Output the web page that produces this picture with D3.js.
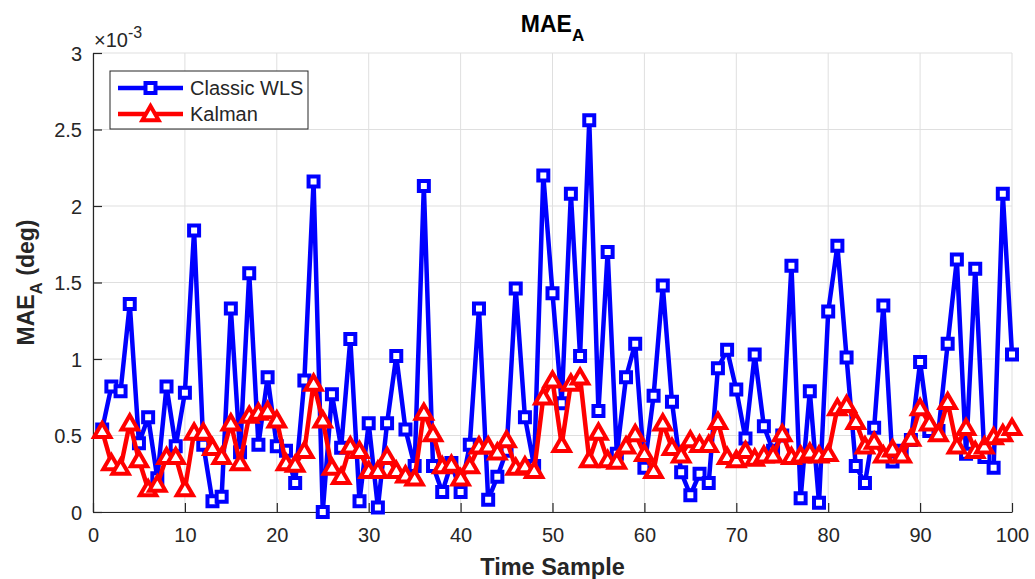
<!DOCTYPE html>
<html>
<head>
<meta charset="utf-8">
<script src="https://cdn.jsdelivr.net/npm/d3@7"></script>
<style>
  body { margin: 0; background: #fff; }
  text { font-family: "Liberation Sans", Arial, sans-serif; }
</style>
</head>
<body>
<div id="chart"></div>
<script>
// values are in units of 1e-3 deg
var samples = d3.range(1, 101);
var wls = [0.54, 0.82, 0.79, 1.36, 0.45, 0.62, 0.22, 0.82, 0.43, 0.78,
           1.84, 0.44, 0.07, 0.10, 1.33, 0.39, 1.56, 0.44, 0.88, 0.43,
           0.40, 0.19, 0.86, 2.16, 0.00, 0.77, 0.42, 1.13, 0.07, 0.58,
           0.03, 0.58, 1.02, 0.54, 0.30, 2.13, 0.30, 0.13, 0.32, 0.13,
           0.44, 1.33, 0.08, 0.23, 0.40, 1.46, 0.62, 0.30, 2.20, 1.43,
           0.71, 2.08, 1.02, 2.56, 0.66, 1.70, 0.38, 0.88, 1.10, 0.29,
           0.76, 1.48, 0.72, 0.26, 0.11, 0.25, 0.19, 0.94, 1.06, 0.80,
           0.48, 1.03, 0.56, 0.40, 0.50, 1.61, 0.09, 0.79, 0.06, 1.31,
           1.74, 1.01, 0.30, 0.19, 0.55, 1.35, 0.33, 0.40, 0.47, 0.98,
           0.53, 0.53, 1.10, 1.65, 0.38, 1.59, 0.36, 0.29, 2.08, 1.03];
var kalman = [0.53, 0.32, 0.29, 0.58, 0.34, 0.15, 0.18, 0.36, 0.36, 0.15,
              0.52, 0.52, 0.42, 0.36, 0.58, 0.32, 0.63, 0.65, 0.66, 0.60,
              0.32, 0.31, 0.40, 0.84, 0.60, 0.29, 0.23, 0.43, 0.40, 0.27,
              0.27, 0.36, 0.27, 0.24, 0.22, 0.65, 0.51, 0.30, 0.31, 0.22,
              0.30, 0.43, 0.43, 0.39, 0.47, 0.29, 0.30, 0.27, 0.75, 0.86,
              0.44, 0.84, 0.88, 0.34, 0.52, 0.34, 0.33, 0.43, 0.51, 0.38,
              0.27, 0.58, 0.42, 0.37, 0.47, 0.44, 0.44, 0.59, 0.36, 0.34,
              0.40, 0.35, 0.37, 0.37, 0.51, 0.36, 0.37, 0.39, 0.37, 0.38,
              0.68, 0.70, 0.59, 0.43, 0.46, 0.37, 0.41, 0.37, 0.48, 0.68,
              0.58, 0.51, 0.72, 0.43, 0.55, 0.40, 0.43, 0.49, 0.51, 0.55];
var xTicks = [0, 10, 20, 30, 40, 50, 60, 70, 80, 90, 100];
var yTicks = [0, 0.5, 1, 1.5, 2, 2.5, 3];
var seriesNames = ["Classic WLS", "Kalman"];

var svgWidth = 1035, svgHeight = 579;
var margin = {top: 53, right: 23, bottom: 67, left: 93};
var width = svgWidth - margin.left - margin.right;
var height = svgHeight - margin.top - margin.bottom;
var axisColor = "#262626";
var sqSize = 100, triSize = 115, markStroke = 4;

var x = d3.scaleLinear().domain([0, 100]).range([0, width]),
    y = d3.scaleLinear().domain([0, 3]).range([height, 0]);

var svg = d3.select("#chart").append("svg")
    .attr("width", svgWidth)
    .attr("height", svgHeight);

var g = svg.append("g")
    .attr("transform", "translate(" + margin.left + "," + margin.top + ")");

// grid
g.append("g").selectAll("line").data(xTicks).enter().append("line")
    .attr("x1", function(d) { return x(d); }).attr("x2", function(d) { return x(d); })
    .attr("y1", 0).attr("y2", height)
    .attr("stroke", "#dfdfdf").attr("stroke-width", 1);
g.append("g").selectAll("line").data(yTicks).enter().append("line")
    .attr("x1", 0).attr("x2", width)
    .attr("y1", function(d) { return y(d); }).attr("y2", function(d) { return y(d); })
    .attr("stroke", "#dfdfdf").attr("stroke-width", 1);

// axes
var xAxis = g.append("g")
    .attr("transform", "translate(0," + height + ")")
    .call(d3.axisBottom(x).tickValues(xTicks).tickSizeInner(-9).tickSizeOuter(0).tickPadding(16));
var yAxis = g.append("g")
    .call(d3.axisLeft(y).tickValues(yTicks).tickSizeInner(-9).tickSizeOuter(0).tickPadding(11)
        .tickFormat(function(d) { return d3.format("")(d); }));

[xAxis, yAxis].forEach(function(a) {
    a.select(".domain").attr("stroke", axisColor).attr("stroke-width", 1.2);
    a.selectAll(".tick line").attr("stroke", axisColor).attr("stroke-width", 1.2);
    a.selectAll(".tick text").attr("fill", axisColor)
        .style("font-family", "'Liberation Sans', Arial, sans-serif")
        .style("font-size", "20px");
});
yAxis.selectAll(".tick text").attr("dy", "0.35em");

// exponent label
var expo = svg.append("text")
    .attr("x", margin.left + 1).attr("y", 47)
    .attr("fill", axisColor).style("font-size", "20px");
expo.append("tspan").text("\u00d710");
expo.append("tspan").attr("dy", -9).style("font-size", "16px").text("-3");

// lines and markers
var line = d3.line()
    .x(function(d, i) { return x(samples[i]); })
    .y(function(d) { return y(d); });

function drawSeries(values, color, shape) {
    g.append("path")
        .datum(values)
        .attr("fill", "none")
        .attr("stroke", color)
        .attr("stroke-width", 4.5)
        .attr("stroke-linejoin", "round")
        .attr("d", line);
    var sym = d3.symbol().type(shape).size(shape === d3.symbolSquare ? sqSize : triSize);
    g.append("g").selectAll("path").data(values).enter().append("path")
        .attr("transform", function(d, i) {
            return "translate(" + x(samples[i]) + "," + y(d) + ")" + (shape === d3.symbolTriangle ? " translate(0,1.5)" : "");
        })
        .attr("d", sym)
        .attr("fill", "#fff")
        .attr("stroke", color)
        .attr("stroke-width", markStroke);
}
drawSeries(wls, "#0000ff", d3.symbolSquare);
drawSeries(kalman, "#ff0000", d3.symbolTriangle);

// legend
var legend = svg.append("g").attr("transform", "translate(110,71)");
legend.append("rect")
    .attr("width", 198).attr("height", 58)
    .attr("fill", "#fff").attr("stroke", axisColor).attr("stroke-width", 1);
[{name: seriesNames[0], color: "#0000ff", shape: d3.symbolSquare, y: 17},
 {name: seriesNames[1], color: "#ff0000", shape: d3.symbolTriangle, y: 43}].forEach(function(e) {
    legend.append("line")
        .attr("x1", 8).attr("x2", 73).attr("y1", e.y).attr("y2", e.y)
        .attr("stroke", e.color).attr("stroke-width", 4.5);
    legend.append("path")
        .attr("transform", "translate(40.5," + (e.y + (e.shape === d3.symbolTriangle ? 1.5 : 0)) + ")")
        .attr("d", d3.symbol().type(e.shape).size(e.shape === d3.symbolSquare ? sqSize : triSize))
        .attr("fill", "#fff").attr("stroke", e.color).attr("stroke-width", markStroke);
    legend.append("text")
        .attr("x", 80).attr("y", e.y).attr("dy", "0.35em")
        .attr("fill", axisColor).style("font-size", "20px")
        .text(e.name);
});

// title
var title = svg.append("text")
    .attr("x", margin.left + width / 2).attr("y", 32)
    .attr("text-anchor", "middle").attr("fill", "#000")
    .style("font-size", "23px").style("font-weight", "bold");
title.append("tspan").text("MAE");
title.append("tspan").attr("dy", 9).style("font-size", "17px").text("A");

// x label
svg.append("text")
    .attr("x", margin.left + width / 2).attr("y", 575)
    .attr("text-anchor", "middle").attr("fill", axisColor)
    .style("font-size", "23.5px").style("font-weight", "bold")
    .text("Time Sample");

// y label
var ylab = svg.append("text")
    .attr("transform", "translate(34," + (margin.top + height / 2) + ") rotate(-90)")
    .attr("text-anchor", "middle").attr("fill", axisColor)
    .style("font-size", "23px").style("font-weight", "bold");
ylab.append("tspan").text("MAE");
ylab.append("tspan").attr("dy", 8).style("font-size", "17px").text("A");
ylab.append("tspan").attr("dy", -8).text(" (deg)");
</script>
</body>
</html>
